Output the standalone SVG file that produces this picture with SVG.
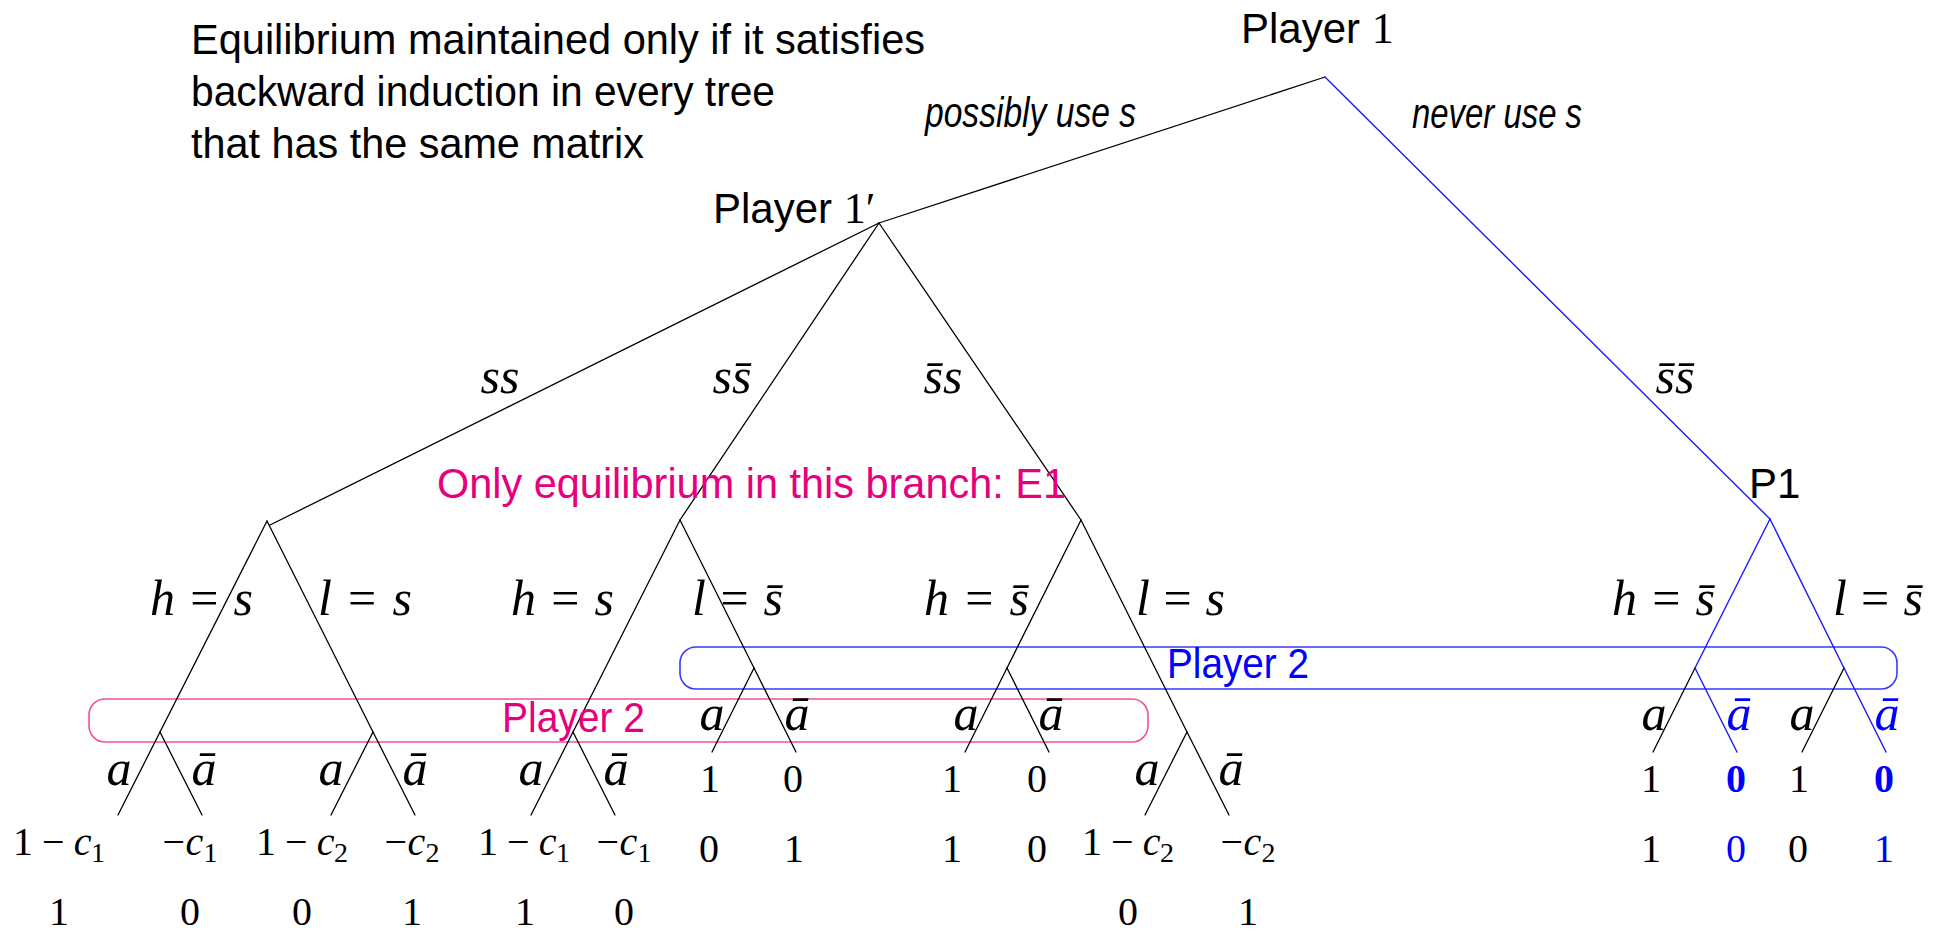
<svg xmlns="http://www.w3.org/2000/svg" width="1946" height="932" viewBox="0 0 1946 932">
<style>
.sans{font-family:"Liberation Sans",Arial,sans-serif;font-size:42px;fill:#000}
.it{font-style:italic}
.m{font-family:"Liberation Serif","Times New Roman",serif;font-size:50px;fill:#000}
.p{font-family:"Liberation Serif","Times New Roman",serif;font-size:40px;fill:#000;text-anchor:middle}
.lab{font-family:"Liberation Serif","Times New Roman",serif;font-size:50px;font-style:italic;text-anchor:middle}
.blk{stroke:#000;stroke-width:1.3;fill:none;stroke-linecap:round}
.blu{stroke:#1a1aff;stroke-width:1.4;fill:none;stroke-linecap:round}
.pink{fill:#e6007e}
.blue{fill:#0000ff}
.sub{font-size:28px}
</style>
<rect width="1946" height="932" fill="#fff"/>

<g id="info-sets">
  <rect x="89" y="699" width="1059" height="43" rx="16" fill="none" stroke="#f0509e" stroke-width="1.6"/>
  <rect x="680" y="647" width="1217" height="42" rx="16" fill="none" stroke="#3a3aff" stroke-width="1.6"/>
</g>

<g id="connectors">
  <line class="blk" x1="1325" y1="77" x2="879" y2="223"/>
  <line class="blu" x1="1325" y1="77" x2="1770" y2="519"/>
  <line class="blk" x1="879" y1="223" x2="270" y2="525"/>
  <line class="blk" x1="879" y1="223" x2="680" y2="520"/>
  <line class="blk" x1="879" y1="223" x2="1081" y2="520"/>
  <line class="blu" x1="1770" y1="519" x2="1695" y2="668"/>
  <line class="blu" x1="1770" y1="519" x2="1844" y2="668"/>
  <line class="blk" x1="267" y1="521" x2="160" y2="732"/>
  <line class="blk" x1="267" y1="521" x2="373" y2="732"/>
  <line class="blk" x1="680" y1="520" x2="573" y2="732"/>
  <line class="blk" x1="680" y1="520" x2="754" y2="668"/>
  <line class="blk" x1="1081" y1="520" x2="1007" y2="668"/>
  <line class="blk" x1="1081" y1="520" x2="1187" y2="732"/>
  <line class="blk" x1="160" y1="732" x2="118" y2="815"/>
  <line class="blk" x1="160" y1="732" x2="202" y2="815"/>
  <line class="blk" x1="373" y1="732" x2="331" y2="815"/>
  <line class="blk" x1="373" y1="732" x2="415" y2="815"/>
  <line class="blk" x1="573" y1="732" x2="531" y2="815"/>
  <line class="blk" x1="573" y1="732" x2="615" y2="815"/>
  <line class="blk" x1="1187" y1="732" x2="1145" y2="815"/>
  <line class="blk" x1="1187" y1="732" x2="1229" y2="815"/>
  <line class="blk" x1="754" y1="668" x2="712" y2="752"/>
  <line class="blk" x1="754" y1="668" x2="796" y2="752"/>
  <line class="blk" x1="1007" y1="668" x2="965" y2="752"/>
  <line class="blk" x1="1007" y1="668" x2="1049" y2="752"/>
  <line class="blk" x1="1695" y1="668" x2="1653" y2="752"/>
  <line class="blu" x1="1695" y1="668" x2="1737" y2="752"/>
  <line class="blk" x1="1844" y1="668" x2="1802" y2="752"/>
  <line class="blu" x1="1844" y1="668" x2="1886" y2="752"/>

  <text class="sans it" x="925" y="127" font-size="30" textLength="211" lengthAdjust="spacingAndGlyphs">possibly use s</text>
  <text class="sans it" x="1412" y="128" font-size="30" textLength="170" lengthAdjust="spacingAndGlyphs">never use s</text>

  <text class="lab" x="500" y="393">ss</text>
  <text class="lab" x="732" y="393">ss&#772;</text>
  <text class="lab" x="943" y="393">s&#772;s</text>
  <text class="lab" x="1675" y="393">s&#772;s&#772;</text>

  <text class="m" x="150" y="615" textLength="103" lengthAdjust="spacing"><tspan class="it">h</tspan> = <tspan class="it">s</tspan></text>
  <text class="m" x="318" y="615" textLength="94" lengthAdjust="spacing"><tspan class="it">l</tspan> = <tspan class="it">s</tspan></text>
  <text class="m" x="511" y="615" textLength="103" lengthAdjust="spacing"><tspan class="it">h</tspan> = <tspan class="it">s</tspan></text>
  <text class="m" x="692" y="615" textLength="91" lengthAdjust="spacing"><tspan class="it">l</tspan> = <tspan class="it">s&#772;</tspan></text>
  <text class="m" x="924" y="615" textLength="105" lengthAdjust="spacing"><tspan class="it">h</tspan> = <tspan class="it">s&#772;</tspan></text>
  <text class="m" x="1136" y="615" textLength="89" lengthAdjust="spacing"><tspan class="it">l</tspan> = <tspan class="it">s</tspan></text>
  <text class="m" x="1612" y="615" textLength="103" lengthAdjust="spacing"><tspan class="it">h</tspan> = <tspan class="it">s&#772;</tspan></text>
  <text class="m" x="1833" y="615" textLength="90" lengthAdjust="spacing"><tspan class="it">l</tspan> = <tspan class="it">s&#772;</tspan></text>

  <text class="lab" x="119" y="785">a</text><text class="lab" x="204" y="785">ā</text>
  <text class="lab" x="331" y="785">a</text><text class="lab" x="415" y="785">ā</text>
  <text class="lab" x="531" y="785">a</text><text class="lab" x="616" y="785">ā</text>
  <text class="lab" x="1147" y="785">a</text><text class="lab" x="1231" y="785">ā</text>
  <text class="lab" x="712" y="730">a</text><text class="lab" x="797" y="730">ā</text>
  <text class="lab" x="966" y="730">a</text><text class="lab" x="1051" y="730">ā</text>
  <text class="lab" x="1654" y="730">a</text><text class="lab blue" x="1739" y="730">ā</text>
  <text class="lab" x="1802" y="730">a</text><text class="lab blue" x="1887" y="730">ā</text>
</g>

<g id="note">
  <text class="sans" x="191" y="54" textLength="734" lengthAdjust="spacingAndGlyphs">Equilibrium maintained only if it satisfies</text>
  <text class="sans" x="191" y="106" textLength="584" lengthAdjust="spacingAndGlyphs">backward induction in every tree</text>
  <text class="sans" x="191" y="158" textLength="453" lengthAdjust="spacingAndGlyphs">that has the same matrix</text>
  <text class="sans pink" x="437" y="498" textLength="629" lengthAdjust="spacingAndGlyphs">Only equilibrium in this branch: E1</text>
</g>

<g id="node-root">
  <text class="sans" x="1241" y="43">Player <tspan font-family="Liberation Serif,serif" font-size="44">1</tspan></text>
</g>
<g id="node-player1prime">
  <text class="sans" x="713" y="223">Player <tspan font-family="Liberation Serif,serif" font-size="44">1′</tspan></text>
</g>
<g id="node-P1">
  <text class="sans" x="1749" y="498">P1</text>
</g>
<g id="node-player2-pink">
  <text class="sans pink" x="502" y="732" textLength="143" lengthAdjust="spacingAndGlyphs">Player 2</text>
</g>
<g id="node-player2-blue">
  <text class="sans blue" x="1167" y="678" textLength="142" lengthAdjust="spacingAndGlyphs">Player 2</text>
</g>

<g id="payoffs-pink">
  <text class="p" x="59" y="855" textLength="92" lengthAdjust="spacing">1 − <tspan class="it">c</tspan><tspan class="sub" dy="7">1</tspan></text>
  <text class="p" x="190" y="855" textLength="55" lengthAdjust="spacing">−<tspan class="it">c</tspan><tspan class="sub" dy="7">1</tspan></text>
  <text class="p" x="302" y="855" textLength="92" lengthAdjust="spacing">1 − <tspan class="it">c</tspan><tspan class="sub" dy="7">2</tspan></text>
  <text class="p" x="412" y="855" textLength="55" lengthAdjust="spacing">−<tspan class="it">c</tspan><tspan class="sub" dy="7">2</tspan></text>
  <text class="p" x="524" y="855" textLength="92" lengthAdjust="spacing">1 − <tspan class="it">c</tspan><tspan class="sub" dy="7">1</tspan></text>
  <text class="p" x="624" y="855" textLength="55" lengthAdjust="spacing">−<tspan class="it">c</tspan><tspan class="sub" dy="7">1</tspan></text>
  <text class="p" x="1128" y="855" textLength="92" lengthAdjust="spacing">1 − <tspan class="it">c</tspan><tspan class="sub" dy="7">2</tspan></text>
  <text class="p" x="1248" y="855" textLength="55" lengthAdjust="spacing">−<tspan class="it">c</tspan><tspan class="sub" dy="7">2</tspan></text>
  <text class="p" x="59" y="925">1</text>
  <text class="p" x="190" y="925">0</text>
  <text class="p" x="302" y="925">0</text>
  <text class="p" x="412" y="925">1</text>
  <text class="p" x="525" y="925">1</text>
  <text class="p" x="624" y="925">0</text>
  <text class="p" x="1128" y="925">0</text>
  <text class="p" x="1248" y="925">1</text>
</g>

<g id="payoffs-blue">
  <text class="p" x="710" y="792">1</text><text class="p" x="793" y="792">0</text>
  <text class="p" x="709" y="862">0</text><text class="p" x="794" y="862">1</text>
  <text class="p" x="952" y="792">1</text><text class="p" x="1037" y="792">0</text>
  <text class="p" x="952" y="862">1</text><text class="p" x="1037" y="862">0</text>
  <text class="p" x="1651" y="792">1</text><text class="p blue" x="1736" y="792" font-weight="bold">0</text>
  <text class="p" x="1651" y="862">1</text><text class="p blue" x="1736" y="862">0</text>
  <text class="p" x="1799" y="792">1</text><text class="p blue" x="1884" y="792" font-weight="bold">0</text>
  <text class="p" x="1798" y="862">0</text><text class="p blue" x="1884" y="862">1</text>
</g>
</svg>
